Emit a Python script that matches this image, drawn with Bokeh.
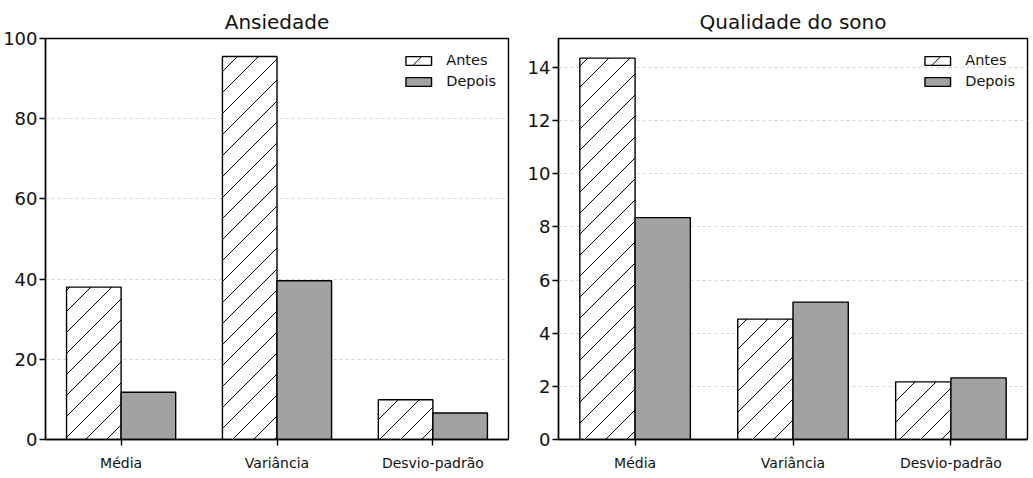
import base64
from bokeh.plotting import figure
from bokeh.layouts import row
from bokeh.models import (ColumnDataSource, Range1d, FixedTicker, Legend, LegendItem,
                          ImageURLTexture)
from bokeh.core.properties import value
from bokeh.transform import dodge
from bokeh.embed import file_html
from bokeh.resources import INLINE

categories = ["Média", "Variância", "Desvio-padrão"]
ans_antes = [38.0, 95.5, 9.9]
ans_depois = [11.8, 39.6, 6.6]
sono_antes = [14.35, 4.53, 2.17]
sono_depois = [8.35, 5.17, 2.32]
ans_ticks = [0, 20, 40, 60, 80, 100]
sono_ticks = [0, 2, 4, 6, 8, 10, 12, 14]

FONT = "DejaVu Sans"
GRAY = "#a2a2a2"
BAR_W = 0.35

svg_tile = ('<svg xmlns="http://www.w3.org/2000/svg" width="21" height="21">'
            '<path d="M0,21 L21,0 M-2,2 L2,-2 M19,23 L23,19" stroke="black" '
            'stroke-width="1" fill="none"/></svg>')
TILE_URL = "data:image/svg+xml;base64," + base64.b64encode(svg_tile.encode()).decode()


def make_fig(title, antes, depois, ymax, yticks, width, mbl, mbr):
    idx = list(range(len(categories)))
    src = ColumnDataSource(dict(x=idx, antes=antes, depois=depois))
    p = figure(width=width, height=477, output_backend="svg", toolbar_location=None,
               x_range=Range1d(-0.485, 2.485), y_range=Range1d(0, ymax),
               min_border_left=mbl, min_border_right=mbr, min_border_top=38,
               min_border_bottom=38, title=title)
    p.title.text_font = FONT
    p.title.text_font_size = "20px"
    p.title.text_font_style = "normal"
    p.title.text_color = "#111111"
    p.title.align = "center"
    p.title.standoff = 9

    tex = ImageURLTexture(url=TILE_URL, repetition="repeat")
    r1 = p.vbar(x=dodge("x", -BAR_W / 2), top="antes", width=BAR_W, source=src,
                fill_color="white", line_color="black", line_width=1.4,
                hatch_pattern=value("diag"), hatch_extra={"diag": tex},
                hatch_color="black", hatch_scale=21, hatch_weight=1)
    r2 = p.vbar(x=dodge("x", BAR_W / 2), top="depois", width=BAR_W, source=src,
                fill_color=GRAY, line_color="black", line_width=1.4)

    p.xgrid.visible = False
    p.ygrid.grid_line_color = "#d4d4d4"
    p.ygrid.grid_line_dash = "3 3"
    p.ygrid.grid_line_width = 1
    p.ygrid.ticker = FixedTicker(ticks=yticks)

    p.xaxis.ticker = FixedTicker(ticks=idx)
    p.xaxis.major_label_overrides = {i: c for i, c in zip(idx, categories)}
    p.yaxis.ticker = FixedTicker(ticks=yticks)
    for ax in (p.xaxis[0], p.yaxis[0]):
        ax.axis_line_color = "black"
        ax.axis_line_width = 1.4
        ax.major_tick_line_color = "black"
        ax.major_tick_line_width = 1.4
        ax.major_tick_in = 0
        ax.major_tick_out = 6
        ax.minor_tick_line_color = None
        ax.major_label_text_font = FONT
        ax.major_label_text_color = "#111111"
    p.xaxis.major_label_text_font_size = "14px"
    p.xaxis.major_label_standoff = 9
    p.yaxis.major_label_text_font_size = "18px"
    p.yaxis.major_label_standoff = 2

    p.outline_line_color = "black"
    p.outline_line_width = 1.4
    p.outline_line_alpha = 1

    legend = Legend(items=[LegendItem(label="Antes", renderers=[r1]),
                           LegendItem(label="Depois", renderers=[r2])],
                    location="top_right")
    legend.label_text_font = FONT
    legend.label_text_font_size = "14.5px"
    legend.label_text_color = "#111111"
    legend.glyph_width = 32
    legend.glyph_height = 11
    legend.label_height = 20
    legend.spacing = 1
    legend.padding = 4
    legend.margin = 8
    legend.label_standoff = 12
    legend.border_line_alpha = 0
    legend.background_fill_alpha = 0
    p.add_layout(legend)
    return p


p1 = make_fig("Ansiedade", ans_antes, ans_depois, 100, ans_ticks, 520, 42, 12)
p2 = make_fig("Qualidade do sono", sono_antes, sono_depois, 15.09, sono_ticks, 512, 38, 5)
layout = row(p1, p2)

open("out.html", "w").write(file_html(layout, INLINE))
